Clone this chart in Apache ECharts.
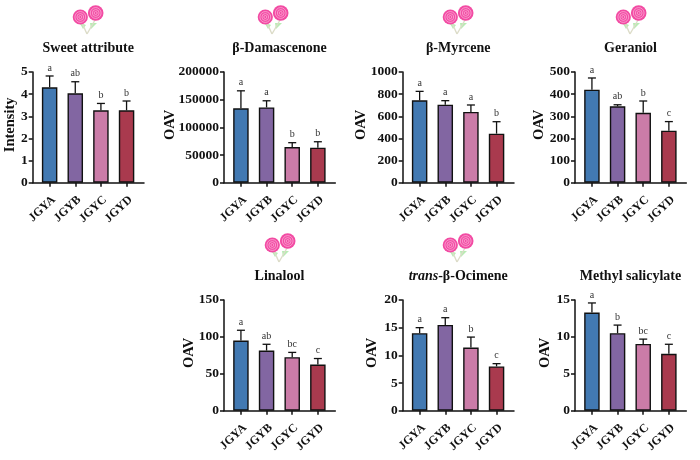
<!DOCTYPE html>
<html>
<head>
<meta charset="utf-8">
<style>
html, body { margin: 0; padding: 0; background: #fff; }
#chart { width: 700px; height: 460px; }
</style>
<script src="https://cdn.jsdelivr.net/npm/echarts@6/dist/echarts.min.js"></script>
</head>
<body>
<div id="chart"></div>
<script>
var categories = ['JGYA', 'JGYB', 'JGYC', 'JGYD'];
var colors = ['#4279b2', '#8266a2', '#cb7ca8', '#a93a4e'];

var sweetMean = [4.31, 4.04, 3.27, 3.27];
var sweetTop = [4.82, 4.56, 3.58, 3.69];
var sweetLetters = ['a', 'ab', 'b', 'b'];

var damasMean = [134300, 136000, 64500, 63300];
var damasTop = [166000, 148000, 72300, 74000];
var damasLetters = ['a', 'a', 'b', 'b'];

var myrceneMean = [744, 705, 639, 443];
var myrceneTop = [825, 741, 702, 551];
var myrceneLetters = ['a', 'a', 'a', 'b'];

var geraniolMean = [420, 345, 316, 235];
var geraniolTop = [473, 352, 369, 276];
var geraniolLetters = ['a', 'ab', 'b', 'c'];

var linaloolMean = [95, 81.5, 72.5, 62.6];
var linaloolTop = [109, 90, 79, 70.7];
var linaloolLetters = ['a', 'ab', 'bc', 'c'];

var ocimeneMean = [14, 15.5, 11.4, 8];
var ocimeneTop = [15, 16.8, 13.3, 8.5];
var ocimeneLetters = ['a', 'a', 'b', 'c'];

var methylMean = [13.3, 10.5, 9.05, 7.7];
var methylTop = [14.6, 11.6, 9.7, 9];
var methylLetters = ['a', 'b', 'bc', 'c'];

var FONT = '"Liberation Serif", serif';

// left, top of each small plot and the distance of the y name from the axis
var panels = [
    { title: 'Sweet attribute', name: 'Intensity', max: 5, step: 1, mean: sweetMean, top: sweetTop, letters: sweetLetters, x: 32.7, y: 72, gap: 14.5 },
    { title: 'β-Damascenone', name: 'OAV', max: 200000, step: 50000, mean: damasMean, top: damasTop, letters: damasLetters, x: 224, y: 72, gap: 46.5 },
    { title: 'β-Myrcene', name: 'OAV', max: 1000, step: 200, mean: myrceneMean, top: myrceneTop, letters: myrceneLetters, x: 402.7, y: 72, gap: 34 },
    { title: 'Geraniol', name: 'OAV', max: 500, step: 100, mean: geraniolMean, top: geraniolTop, letters: geraniolLetters, x: 575, y: 72, gap: 28.5 },
    { title: 'Linalool', name: 'OAV', max: 150, step: 50, mean: linaloolMean, top: linaloolTop, letters: linaloolLetters, x: 224, y: 300, gap: 27.5 },
    { title: '{i|trans}-β-Ocimene', name: 'OAV', max: 20, step: 5, mean: ocimeneMean, top: ocimeneTop, letters: ocimeneLetters, x: 402.7, y: 300, gap: 22.5 },
    { title: 'Methyl salicylate', name: 'OAV', max: 15, step: 5, mean: methylMean, top: methylTop, letters: methylLetters, x: 575, y: 300, gap: 22 }
];

// where the lollipop pictures sit
var candyPlaces = [[88, 5], [273, 5], [458, 5], [631, 5], [280, 233], [458, 233]];

function buildCandy(place) {
    var children = [
        { type: 'polygon', shape: { points: [[-2, 20], [-9, 17], [-5, 24]] }, style: { fill: '#b8ecb4' } },
        { type: 'polygon', shape: { points: [[2, 18], [9, 18], [3, 24]] }, style: { fill: '#b8ecb4' } },
        { type: 'line', shape: { x1: -6, y1: 18, x2: -1, y2: 29 }, style: { stroke: '#dcdcc8', lineWidth: 1.4 } },
        { type: 'line', shape: { x1: 7, y1: 15, x2: -1, y2: 29 }, style: { stroke: '#dcdcc8', lineWidth: 1.4 } }
    ];
    [[-7.7, 12, 7.6], [7.7, 8, 7.8]].forEach(function (c) {
        children.push({ type: 'circle', shape: { cx: c[0], cy: c[1], r: c[2] }, style: { fill: '#f24ba3' } });
        [5.4, 3.4, 1.5].forEach(function (r) {
            children.push({
                type: 'circle',
                shape: { cx: c[0], cy: c[1], r: r },
                style: { fill: 'none', stroke: '#fbaad6', lineWidth: 0.8 }
            });
        });
    });
    return { type: 'group', x: place[0], y: place[1], silent: true, children: children };
}

function renderError(panel, params, api) {
    var x = api.value(0);
    var low = api.coord([x, api.value(1)]);
    var high = api.coord([x, api.value(2)]);
    return {
        type: 'group',
        children: [
            { type: 'line', shape: { x1: low[0], y1: low[1], x2: high[0], y2: high[1] }, style: { stroke: '#111', lineWidth: 1.3 } },
            { type: 'line', shape: { x1: low[0] - 4, y1: high[1], x2: low[0] + 4, y2: high[1] }, style: { stroke: '#111', lineWidth: 1.3 } },
            {
                type: 'text',
                style: {
                    x: low[0], y: high[1] - 3,
                    text: panel.letters[params.dataIndex],
                    font: '10px ' + FONT, fill: '#333',
                    align: 'center', verticalAlign: 'bottom'
                }
            }
        ]
    };
}

var option = {
    animation: false,
    backgroundColor: '#fff',
    title: [], grid: [], xAxis: [], yAxis: [], series: [],
    graphic: candyPlaces.map(buildCandy)
};

var tickSpots = [1, 2, 3, 4];

panels.forEach(function (panel, i) {
    option.title.push({
        text: panel.title,
        left: panel.x + 55.5,
        top: panel.y - 24,
        padding: 0,
        textAlign: 'center',
        textVerticalAlign: 'middle',
        textStyle: {
            fontFamily: FONT, fontSize: 14, fontWeight: 'bold', color: '#111',
            rich: { i: { fontFamily: FONT, fontSize: 14, fontWeight: 'bold', fontStyle: 'italic', color: '#111' } }
        }
    });
    option.grid.push({ left: panel.x, top: panel.y, width: 111.3, height: 110.7 });
    option.xAxis.push({
        type: 'value',
        gridIndex: i,
        min: 0.34,
        max: 4.68,
        splitLine: { show: false },
        axisLine: { lineStyle: { color: '#111', width: 1.5 } },
        axisTick: { customValues: tickSpots, length: 4, lineStyle: { color: '#111', width: 1.5 } },
        axisLabel: {
            customValues: tickSpots,
            rotate: 43,
            margin: 11,
            verticalAlign: 'top',
            fontFamily: FONT, fontSize: 12, fontWeight: 'bold', color: '#111',
            formatter: function (v) { return categories[v - 1]; }
        }
    });
    option.yAxis.push({
        type: 'value',
        gridIndex: i,
        min: 0,
        max: panel.max,
        interval: panel.step,
        name: panel.name,
        nameLocation: 'middle',
        nameGap: panel.gap,
        nameMoveOverlap: false,
        nameTextStyle: { fontFamily: FONT, fontSize: 14.5, fontWeight: 'bold', color: '#111', padding: [0, 0, 0, 5] },
        splitLine: { show: false },
        axisLine: { show: true, lineStyle: { color: '#111', width: 1.5 } },
        axisTick: { show: true, length: 4, lineStyle: { color: '#111', width: 1.5 } },
        axisLabel: {
            margin: 5,
            fontFamily: FONT, fontSize: 13.5, fontWeight: 'bold', color: '#111',
            formatter: function (v) { return String(v); }
        }
    });
    option.series.push({
        type: 'bar',
        xAxisIndex: i,
        yAxisIndex: i,
        barWidth: 15.5,
        data: panel.mean.map(function (v, k) {
            return { value: [k + 1, v], itemStyle: { color: colors[k], borderColor: '#111', borderWidth: 1.4 } };
        })
    });
    option.series.push({
        type: 'custom',
        xAxisIndex: i,
        yAxisIndex: i,
        silent: true,
        clip: false,
        z: 3,
        data: panel.mean.map(function (v, k) { return [k + 1, v, panel.top[k]]; }),
        encode: { x: 0, y: [1, 2] },
        renderItem: function (params, api) { return renderError(panel, params, api); }
    });
});

var chart = echarts.init(document.getElementById('chart'), null, { renderer: 'canvas' });
chart.setOption(option);
</script>
</body>
</html>
